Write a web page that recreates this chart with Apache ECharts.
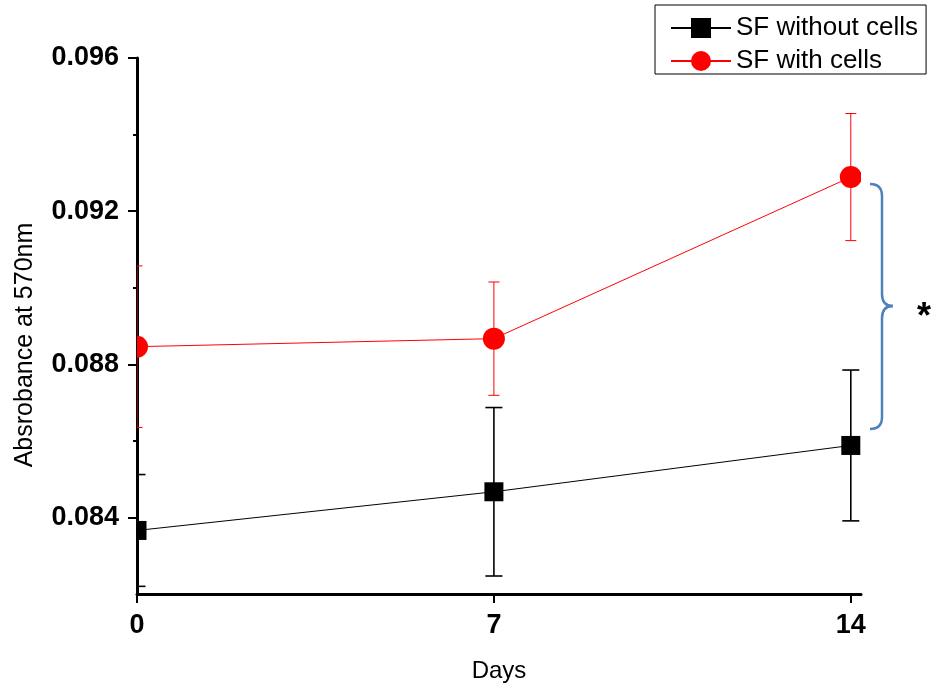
<!DOCTYPE html>
<html>
<head>
<meta charset="utf-8">
<title>Absorbance</title>
<script src="https://cdn.jsdelivr.net/npm/echarts@6/dist/echarts.min.js"></script>
<style>
  html, body { margin: 0; padding: 0; background: #fff; }
  #chart { width: 935px; height: 688px; }
</style>
</head>
<body>
<div id="chart"></div>
<script>
// values
var days = [0, 7, 14]
var withoutCells = [0.08366, 0.08467, 0.08588]
var withoutCellsErr = [0.00146, 0.0022, 0.00197]
var withCells = [0.08846, 0.08867, 0.09289]
var withCellsErr = [0.00211, 0.00148, 0.00166]

var yMajor = [0.084, 0.088, 0.092, 0.096]
var yMinor = [0.086, 0.09, 0.094]
var xTicks = [0, 7, 14]

var FONT = 'Liberation Sans, Arial, sans-serif'

function pairs(vals) {
  return days.map(function(d, i) { return [d, vals[i]] })
}

function errData(vals, errs) {
  return days.map(function(d, i) { return [d, vals[i], errs[i]] })
}

// error bars + marker, clipped to the grid like the original
function errorItem(opts) {
  return function(params, api) {
    var x = api.value(0)
    var m = api.value(1)
    var e = api.value(2)
    var c = api.coord([x, m])
    var hi = api.coord([x, m + e])
    var lo = api.coord([x, m - e])
    var hw = opts.cap / 2
    var s = opts.size
    var marker = opts.shape === 'circle'
      ? { type: 'circle', shape: { cx: c[0], cy: c[1], r: s / 2 }, style: { fill: opts.color } }
      : { type: 'rect', shape: { x: c[0] - s / 2, y: c[1] - s / 2, width: s, height: s }, style: { fill: opts.color } }
    var ls = { stroke: opts.color, lineWidth: opts.width }
    return {
      type: 'group',
      children: [
        { type: 'line', shape: { x1: hi[0], y1: hi[1], x2: lo[0], y2: lo[1] }, style: ls },
        { type: 'line', shape: { x1: hi[0] - hw, y1: hi[1], x2: hi[0] + hw, y2: hi[1] }, style: ls },
        { type: 'line', shape: { x1: lo[0] - hw, y1: lo[1], x2: lo[0] + hw, y2: lo[1] }, style: ls },
        marker
      ]
    }
  }
}

// curly brace next to day 14
var braceStyle = { stroke: '#4f81bd', lineWidth: 2.5, fill: null }
function curve(x1, y1, cx, cy, x2, y2) {
  return { type: 'bezierCurve', shape: { x1: x1, y1: y1, cpx1: cx, cpy1: cy, x2: x2, y2: y2 }, style: braceStyle }
}
function seg(x1, y1, x2, y2) {
  return { type: 'line', shape: { x1: x1, y1: y1, x2: x2, y2: y2 }, style: braceStyle }
}

var chart = echarts.init(document.getElementById('chart'))

var axisLine = { show: true, onZero: false, lineStyle: { color: '#000', width: 3 } }

chart.setOption({
  animation: false,
  textStyle: { fontFamily: FONT },
  grid: { left: 137, right: 74, top: 58, bottom: 94 },
  legend: {
    left: 655,
    top: 5,
    orient: 'vertical',
    itemWidth: 60,
    itemHeight: 25,
    itemGap: 7,
    itemTextGap: 6,
    itemStyle: { borderWidth: 0 },
    padding: [10, 8, 0, 15],
    borderColor: '#000',
    borderWidth: 1,
    textStyle: { fontSize: 26, color: '#000', fontFamily: FONT },
    data: ['SF without cells', 'SF with cells']
  },
  xAxis: {
    type: 'value',
    min: 0,
    max: 14.2,
    name: 'Days',
    nameLocation: 'middle',
    nameGap: 65,
    nameTextStyle: { fontSize: 24, color: '#000', fontFamily: FONT },
    axisLine: axisLine,
    axisTick: { customValues: xTicks, length: 9, lineStyle: { color: '#000', width: 2 } },
    axisLabel: {
      customValues: xTicks,
      margin: 18,
      fontSize: 27,
      fontWeight: 'bold',
      color: '#000',
      fontFamily: FONT
    },
    splitLine: { show: false }
  },
  yAxis: [
    {
      type: 'value',
      min: 0.082,
      max: 0.096,
      name: 'Absrobance at 570nm',
      nameLocation: 'middle',
      nameRotate: 90,
      nameGap: 99,
      nameTextStyle: { fontSize: 25, color: '#000', fontFamily: FONT, padding: [0, 38, 0, 0] },
      axisLine: axisLine,
      axisTick: { customValues: yMajor, length: 9, lineStyle: { color: '#000', width: 2 } },
      axisLabel: {
        customValues: yMajor,
        formatter: function(v) { return v.toFixed(3) },
        margin: 18,
        fontSize: 27,
        fontWeight: 'bold',
        color: '#000',
        fontFamily: FONT
      },
      splitLine: { show: false }
    },
    {
      type: 'value',
      min: 0.082,
      max: 0.096,
      position: 'left',
      axisLine: { show: false },
      axisTick: { show: true, customValues: yMinor, length: 4, lineStyle: { color: '#000', width: 2 } },
      axisLabel: { show: false },
      splitLine: { show: false }
    }
  ],
  series: [
    {
      name: 'SF without cells',
      type: 'line',
      data: pairs(withoutCells),
      symbol: 'rect',
      showSymbol: false,
      color: '#000',
      lineStyle: { width: 1, color: '#000' },
      silent: true,
      z: 2
    },
    {
      name: 'SF with cells',
      type: 'line',
      data: pairs(withCells),
      symbol: 'circle',
      showSymbol: false,
      color: '#ff0000',
      lineStyle: { width: 1, color: '#ff0000' },
      silent: true,
      z: 2
    },
    {
      type: 'custom',
      data: errData(withoutCells, withoutCellsErr),
      renderItem: errorItem({ color: '#000', width: 1.6, cap: 17, size: 19, shape: 'rect' }),
      clip: true,
      silent: true,
      z: 3
    },
    {
      type: 'custom',
      data: errData(withCells, withCellsErr),
      renderItem: errorItem({ color: '#ff0000', width: 1, cap: 11, size: 22, shape: 'circle' }),
      clip: true,
      silent: true,
      z: 3
    }
  ],
  graphic: [
    {
      type: 'group',
      children: [
        curve(870, 184, 882, 184, 882, 196),
        seg(882, 196, 882, 294),
        curve(882, 294, 882, 306, 893, 306),
        curve(893, 306, 882, 306, 882, 318),
        seg(882, 318, 882, 417),
        curve(882, 417, 882, 429, 870, 429)
      ]
    },
    {
      type: 'text',
      x: 924,
      y: 318,
      style: {
        text: '*',
        font: 'bold 36px ' + FONT,
        fill: '#000',
        align: 'center',
        verticalAlign: 'middle'
      }
    }
  ]
})
</script>
</body>
</html>
